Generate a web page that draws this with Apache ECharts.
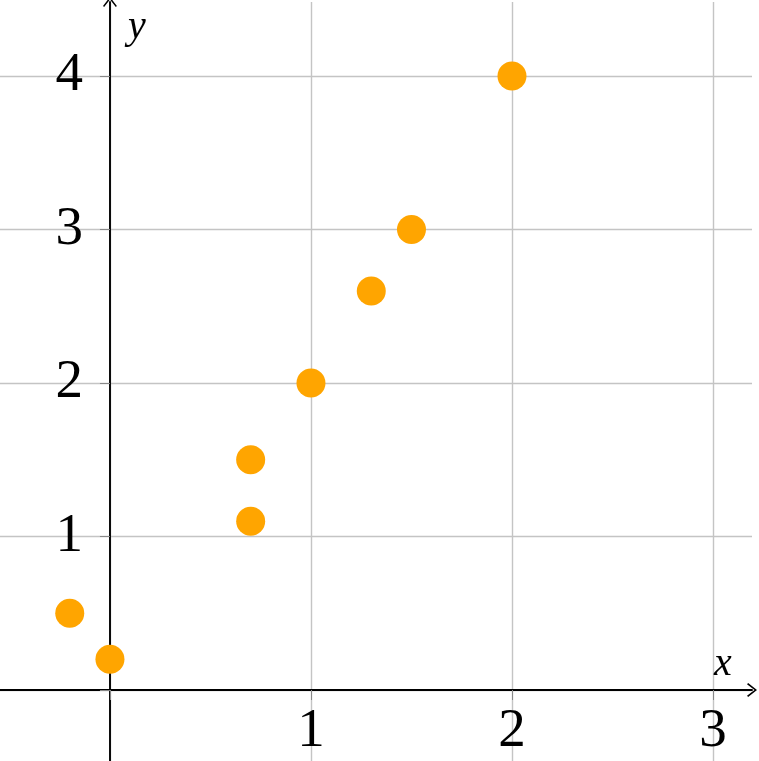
<!DOCTYPE html>
<html>
<head>
<meta charset="utf-8">
<script src="https://cdn.jsdelivr.net/npm/echarts@6/dist/echarts.min.js"></script>
<style>
    html, body { margin: 0; padding: 0; background: #fff; }
    #chart { width: 759px; height: 761px; }
</style>
</head>
<body>
<div id="chart"></div>
<script>
// points
const xValues = [-0.2, 0, 0.7, 0.7, 1, 1.3, 1.5, 2]
const yValues = [0.5, 0.2, 1.5, 1.1, 2, 2.6, 3, 4]

const xTicks = [0, 1, 2, 3]
const xTickLabels = [1, 2, 3]
const yTicks = [0, 1, 2, 3, 4]
const yTickLabels = [1, 2, 3, 4]

const points = xValues.map((x, i) => [x, yValues[i]])

// open chevron arrow like tikz "->"
const chevron = 'path://M5,0 L10,6.4 L9.2,7.2 L5,1.8 L0.8,7.2 L0,6.4 Z'

const labelFont = {
    fontFamily: 'Liberation Serif',
    fontSize: 55,
    color: '#000'
}

const nameFont = {
    fontFamily: 'Liberation Serif',
    fontStyle: 'italic',
    fontSize: 40,
    color: '#000'
}

let chart = echarts.init(document.getElementById('chart'))
let options = {
    animation: false,
    grid: {
        left: 0,
        right: 7,
        top: 2,
        bottom: 0,
        containLabel: false,
        outerBoundsMode: 'none'
    },
    xAxis: {
        type: 'value',
        min: -0.547,
        max: 3.194,
        name: 'x',
        nameLocation: 'end',
        nameGap: -38,
        nameTextStyle: Object.assign({}, nameFont, {
            align: 'left',
            verticalAlign: 'bottom',
            padding: [0, 0, 6, 0]
        }),
        axisLine: {
            onZero: true,
            symbol: ['none', chevron],
            symbolSize: [16, 10],
            lineStyle: {color: '#000', width: 1.9}
        },
        axisTick: {
            customValues: xTicks,
            length: 10,
            lineStyle: {color: '#888'}
        },
        axisLabel: Object.assign({}, labelFont, {
            customValues: xTickLabels,
            margin: -57
        }),
        splitLine: {
            show: true,
            lineStyle: {color: '#c4c4c4', width: 1.4}
        }
    },
    yAxis: {
        type: 'value',
        min: -0.4625,
        max: 4.482,
        name: 'y',
        nameLocation: 'end',
        nameGap: -45,
        nameTextStyle: Object.assign({}, nameFont, {
            align: 'left',
            verticalAlign: 'bottom',
            padding: [0, 0, 0, 18]
        }),
        axisLine: {
            onZero: true,
            symbol: ['none', chevron],
            symbolSize: [16, 10],
            lineStyle: {color: '#000', width: 1.9}
        },
        axisTick: {
            customValues: yTicks,
            length: 10,
            lineStyle: {color: '#888'}
        },
        axisLabel: Object.assign({}, labelFont, {
            customValues: yTickLabels,
            margin: -83
        }),
        splitLine: {
            show: true,
            lineStyle: {color: '#c4c4c4', width: 1.4}
        }
    },
    series: [{
        type: 'scatter',
        data: points,
        symbolSize: 29,
        itemStyle: {color: '#FFA500', opacity: 1}
    }]
}
chart.setOption(options)
</script>
</body>
</html>
